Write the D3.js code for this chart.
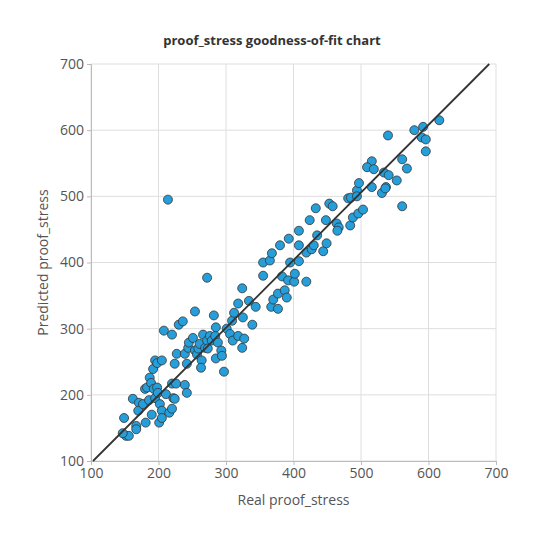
<!DOCTYPE html>
<html>
<head>
<meta charset="utf-8">
<script src="https://cdn.jsdelivr.net/npm/d3@7.9.0/dist/d3.min.js"></script>
<style>
  body { margin: 0; background: #fff; }
  text { font-family: "Open Sans", sans-serif; }
</style>
</head>
<body>
<svg id="chart"></svg>
<script>
// real vs predicted proof_stress
const realValues = [149,152,156,147,167,167,162,171,170,177,181,190,186,180,183,187,189,193,198,195,199,202,205,201,205,211,216,220,222,224,220,226,239,242,192,195,198,205,208,220,230,236,224,227,242,239,244,245,251,254,257,259,261,264,263,266,269,272,276,273,279,284,285,288,293,285,294,297,272,254,282,301,306,310,318,324,327,309,312,318,325,324,334,339,344,355,367,370,377,377,387,383,392,355,365,368,380,393,408,395,408,408,419,427,430,435,444,449,424,433,448,453,458,464,467,465,484,488,496,503,481,485,494,494,497,516,531,537,553,561,401,402,419,390,616,579,592,540,590,596,596,561,568,534,541,516,509,519,536,214];
const predictedValues = [165,138,138,142,153,148,194,188,176,186,158,170,192,209,211,226,218,209,211,195,203,186,176,158,165,201,173,179,195,194,217,217,215,203,239,252,248,252,297,291,306,311,247,262,247,262,271,279,286,267,261,270,277,252,241,291,271,282,289,270,282,289,302,279,267,255,259,235,377,326,320,300,292,282,289,271,285,312,324,338,317,361,342,306,333,380,333,344,330,353,358,379,373,400,403,414,426,436,448,400,402,426,415,420,426,441,417,429,464,482,464,489,485,459,453,448,456,468,474,480,497,498,509,500,520,514,505,514,524,485,371,383,371,347,615,600,605,592,589,586,568,556,542,536,532,553,544,541,512,495];
const xTicks = [100, 200, 300, 400, 500, 600, 700];
const yTicks = [100, 200, 300, 400, 500, 600, 700];

const width = 540, height = 540;
const margin = { top: 64, right: 44, bottom: 79, left: 91 };

const svg = d3.select('#chart').attr('width', width).attr('height', height);

const x = d3.scaleLinear().domain([100, 700]).range([margin.left, width - margin.right]);
const y = d3.scaleLinear().domain([100, 700]).range([height - margin.bottom, margin.top]);

// grid
svg.append('g').selectAll('line').data(xTicks).join('line')
  .attr('x1', d => x(d)).attr('x2', d => x(d))
  .attr('y1', y(100)).attr('y2', y(700))
  .attr('stroke', '#dedede');
svg.append('g').selectAll('line').data(yTicks).join('line')
  .attr('y1', d => y(d)).attr('y2', d => y(d))
  .attr('x1', x(100)).attr('x2', x(700))
  .attr('stroke', '#dedede');

const xAxis = svg.append('g')
  .attr('transform', `translate(0,${y(100)})`)
  .call(d3.axisBottom(x).tickValues(xTicks).tickSize(4));
const yAxis = svg.append('g')
  .attr('transform', `translate(${x(100)},0)`)
  .call(d3.axisLeft(y).tickValues(yTicks).tickSize(4));
[xAxis, yAxis].forEach(a => {
  a.select('.domain').attr('stroke', '#bbb');
  a.selectAll('.tick line').attr('stroke', '#bbb');
  a.selectAll('.tick text').attr('font-size', 14).attr('fill', '#555')
    .attr('font-family', '"Open Sans", sans-serif');
});

// points
const pts = realValues.map((v, i) => [v, predictedValues[i]]);
svg.append('g').selectAll('circle').data(pts).join('circle')
  .attr('cx', d => x(d[0]))
  .attr('cy', d => y(d[1]))
  .attr('r', 4.5)
  .attr('fill', '#259ed9')
  .attr('stroke', '#333')
  .attr('stroke-width', 0.8);

// ideal fit line
svg.append('line')
  .attr('x1', x(103)).attr('y1', y(100))
  .attr('x2', x(690)).attr('y2', y(700))
  .attr('stroke', '#333').attr('stroke-width', 1.8);

svg.append('text')
  .attr('x', 272).attr('y', 45)
  .attr('text-anchor', 'middle')
  .attr('font-size', 13).attr('font-weight', 'bold').attr('fill', '#333')
  .text('proof_stress goodness-of-fit chart');

svg.append('text')
  .attr('x', x(400)).attr('y', 505)
  .attr('text-anchor', 'middle')
  .attr('font-size', 14).attr('fill', '#555')
  .text('Real proof_stress');

svg.append('text')
  .attr('transform', `translate(48,${y(400)}) rotate(-90)`)
  .attr('text-anchor', 'middle')
  .attr('font-size', 14).attr('fill', '#555')
  .text('Predicted proof_stress');
</script>
</body>
</html>
